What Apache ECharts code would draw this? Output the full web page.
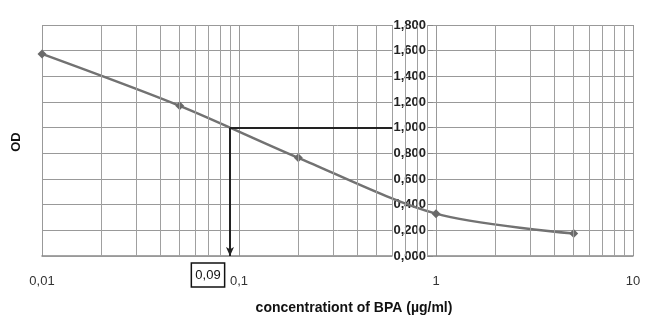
<!DOCTYPE html>
<html>
<head>
<meta charset="utf-8">
<script src="https://cdn.jsdelivr.net/npm/echarts@6/dist/echarts.min.js"></script>
<style>
  html, body { margin: 0; padding: 0; background: #fff; }
  #chart { width: 650px; height: 332px; }
</style>
</head>
<body>
<div id="chart"></div>
<script>
// Standard curve: OD against BPA concentration (log scale)
const concentration = [0.01, 0.05, 0.2, 1, 5];
const odValues = [1.575, 1.17, 0.765, 0.33, 0.175];

// Reading of the sample: OD 1,000 -> 0,09 µg/ml
const readOD = 1.0;
const readConc = 0.09;
const guideEndConc = 0.6;

// Minor vertical grid positions inside each decade
const minorGrid = [
  0.02, 0.03, 0.04, 0.05, 0.06, 0.07, 0.08, 0.09,
  0.2, 0.3, 0.4, 0.5, 0.6, 0.7, 0.8, 0.9,
  2, 3, 4, 5, 6, 7, 8, 9
];

const fmtComma = (v, digits) => {
  const s = digits === undefined ? String(Number(v.toPrecision(6))) : v.toFixed(digits);
  return s.replace('.', ',');
};

const chart = echarts.init(document.getElementById('chart'), null, { renderer: 'canvas' });

chart.setOption({
  animation: false,
  backgroundColor: '#ffffff',
  grid: { left: 42, right: 17, top: 25, bottom: 76, containLabel: false },
  xAxis: {
    type: 'log',
    logBase: 10,
    min: 0.01,
    max: 10,
    z: 0,
    name: 'concentrationt of BPA (µg/ml)',
    nameLocation: 'middle',
    nameGap: 45,
    nameTextStyle: {
      fontFamily: 'Liberation Sans',
      fontWeight: 'bold',
      fontSize: 14,
      color: '#111',
      padding: [0, 0, 0, 33]
    },
    axisLine: { show: true, lineStyle: { color: '#888', width: 1.5 } },
    axisTick: { show: false },
    axisLabel: {
      margin: 19,
      fontFamily: 'Liberation Sans',
      fontSize: 13,
      color: '#333',
      formatter: v => fmtComma(v)
    },
    splitLine: { show: true, lineStyle: { color: '#999', width: 1 } }
  },
  yAxis: {
    type: 'value',
    min: 0,
    max: 1.8,
    interval: 0.2,
    position: 'left',
    offset: -386,
    z: 1,
    axisLine: { show: false },
    axisTick: { show: true, inside: true, length: 5, lineStyle: { color: '#888' } },
    axisLabel: {
      margin: 1,
      fontFamily: 'Liberation Sans',
      fontWeight: 'bold',
      fontSize: 13,
      color: '#222',
      backgroundColor: '#ffffff',
      padding: [0, 1, 0, 1],
      formatter: v => fmtComma(v, 3)
    },
    splitLine: { show: true, lineStyle: { color: '#999', width: 1 } }
  },
  graphic: [
    {
      type: 'text',
      x: 16,
      y: 142,
      rotation: Math.PI / 2,
      style: {
        text: 'OD',
        fontFamily: 'Liberation Sans',
        fontWeight: 'bold',
        fontSize: 13,
        fill: '#111',
        align: 'center',
        verticalAlign: 'middle'
      }
    }
  ],
  series: [
    {
      name: 'minor grid',
      type: 'line',
      data: [],
      silent: true,
      z: 0,
      markLine: {
        silent: true,
        symbol: ['none', 'none'],
        label: { show: false },
        lineStyle: { color: '#a0a0a0', width: 1, type: 'solid' },
        data: minorGrid.map(v => ({ xAxis: v }))
      }
    },
    {
      name: 'OD',
      type: 'line',
      data: concentration.map((c, i) => [c, odValues[i]]),
      smooth: 0.3,
      symbol: 'diamond',
      symbolSize: 9,
      z: 3,
      lineStyle: { color: '#727272', width: 2.5 },
      itemStyle: { color: '#6a6a6a' }
    },
    {
      name: 'reading',
      type: 'line',
      data: [],
      z: 4,
      markLine: {
        silent: true,
        label: { show: false },
        lineStyle: { color: '#222', width: 2, type: 'solid' },
        data: [
          [
            { coord: [readConc, readOD], symbol: 'none' },
            { coord: [guideEndConc, readOD], symbol: 'none' }
          ],
          [
            { coord: [readConc, readOD], symbol: 'none' },
            { coord: [readConc, 0], symbol: 'arrow', symbolSize: [6, 9] }
          ]
        ]
      }
    },
    {
      name: 'reading label',
      type: 'scatter',
      data: [[readConc, 0]],
      symbolSize: 0,
      z: 5,
      itemStyle: { opacity: 1 },
      label: {
        show: true,
        position: 'bottom',
        distance: 7,
        offset: [-22, 0],
        formatter: () => fmtComma(readConc, 2),
        fontFamily: 'Liberation Sans',
        fontSize: 13,
        color: '#111',
        borderColor: '#111',
        borderWidth: 1.5,
        padding: [6, 4, 5, 4]
      }
    }
  ]
});
</script>
</body>
</html>
